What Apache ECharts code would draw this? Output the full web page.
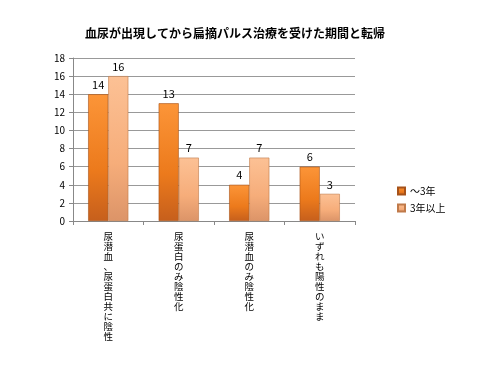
<!DOCTYPE html>
<html><head><meta charset="utf-8">
<script src="https://cdn.jsdelivr.net/npm/echarts@6/dist/echarts.min.js"></script>
<style>html,body{margin:0;padding:0;background:#fff}#c{width:500px;height:375px}</style>
</head><body><div id="c"></div>
<script>
const title = '血尿が出現してから扁摘パルス治療を受けた期間と転帰';
const categories = ['尿潜血、尿蛋白共に陰性', '尿蛋白のみ陰性化', '尿潜血のみ陰性化', 'いずれも陽性のまま'];
const seriesNames = ['～3年', '3年以上'];
const valuesShort = [14, 13, 4, 6];
const valuesLong = [16, 7, 7, 3];
const yTicks = {min: 0, max: 18, interval: 2};

const font = '"Noto Sans CJK JP", sans-serif';
const c1 = new echarts.graphic.LinearGradient(0, 0, 0, 1, [
  {offset: 0, color: '#fc9538'}, {offset: 0.6, color: '#ec7a1c'}, {offset: 1, color: '#c65f1c'}
]);
const c2 = new echarts.graphic.LinearGradient(0, 0, 0, 1, [
  {offset: 0, color: '#fcc195'}, {offset: 0.6, color: '#f6ad7a'}, {offset: 1, color: '#dc9468'}
]);
const chart = echarts.init(document.getElementById('c'), null, {renderer: 'canvas'});
chart.setOption({
  animation: false,
  textStyle: {fontFamily: font},
  title: {text: title, left: 80, top: 22,
    textStyle: {fontSize: 12, fontWeight: 'bold', color: '#000', fontFamily: font}},
  legend: {orient: 'vertical', left: 392, top: 181, itemWidth: 7, itemHeight: 7, itemGap: 7,
    icon: 'rect', textStyle: {fontSize: 10, color: '#000', fontFamily: font},
    data: seriesNames},
  grid: {left: 73, right: 145, top: 58, bottom: 154, containLabel: false},
  xAxis: {type: 'category', data: categories,
    axisLine: {lineStyle: {color: '#888'}},
    axisTick: {show: true, length: 4, lineStyle: {color: '#888'}},
    axisLabel: {interval: 0, fontSize: 9.5, lineHeight: 10, color: '#000', margin: 10,
      verticalAlign: 'top', align: 'center', hideOverlap: false,
      formatter: v => v.split('').join('\n')}},
  yAxis: {type: 'value', min: yTicks.min, max: yTicks.max, interval: yTicks.interval,
    axisLine: {show: true, lineStyle: {color: '#888'}},
    axisTick: {show: true, length: 4, lineStyle: {color: '#888'}},
    axisLabel: {fontSize: 10, color: '#000', margin: 8},
    splitLine: {lineStyle: {color: '#999', width: 1}}},
  series: [
    {name: seriesNames[0], type: 'bar', data: valuesShort, barGap: '0%', barCategoryGap: '43%',
      itemStyle: {color: c1, borderColor: '#a6521a', borderWidth: 0.6},
      label: {show: true, position: 'top', fontSize: 11, color: '#000', distance: 4}},
    {name: seriesNames[1], type: 'bar', data: valuesLong,
      itemStyle: {color: c2, borderColor: '#c07a4a', borderWidth: 0.6},
      label: {show: true, position: 'top', fontSize: 11, color: '#000', distance: 4}}
  ]
});
</script></body></html>
